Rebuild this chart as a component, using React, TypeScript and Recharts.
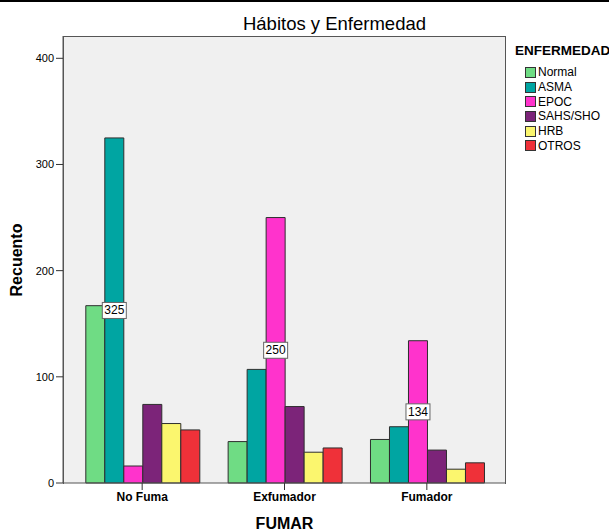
import { Bar, BarChart, CartesianGrid, LabelList, XAxis, YAxis } from 'recharts';

const habits = ['No Fuma', 'Exfumador', 'Fumador'];
const diseases = ['Normal', 'ASMA', 'EPOC', 'SAHS/SHO', 'HRB', 'OTROS'];
const colors = ['#6fdc84', '#00a5a2', '#ff33cc', '#7c2479', '#fbf66e', '#ef3139'];

const normal = [167, 39, 41];
const asma = [325, 107, 53];
const epoc = [16, 250, 134];
const sahs = [74, 72, 31];
const hrb = [56, 29, 13];
const otros = [50, 33, 19];

const yTicks = [0, 100, 200, 300, 400];

const seriesValues = [normal, asma, epoc, sahs, hrb, otros];

const data = habits.map((fumar, i) => {
  const row: Record<string, string | number> = { fumar };
  diseases.forEach((d, j) => {
    row[d] = seriesValues[j][i];
  });
  return row;
});

const rowMax = habits.map((_, i) => Math.max(...seriesValues.map((s) => s[i])));

const FONT = '"Liberation Sans", Arial, sans-serif';

// only the tallest bar of each group gets a value box
const PeakLabel = (props: any) => {
  const { x, y, width, height, value, index } = props;
  if (value !== rowMax[index]) return null;
  const cx = x + width / 2;
  const cy = y + height / 2;
  return (
    <g>
      <rect x={cx - 12} y={cy - 8} width={24} height={16} fill="#fff" stroke="#666" strokeWidth={1} />
      <text x={cx} y={cy + 4} textAnchor="middle" fontSize={12} fontFamily={FONT} fill="#000">
        {value}
      </text>
    </g>
  );
};

export default function App() {
  return (
    <div style={{ position: 'absolute', top: 0, left: 0, width: 609, height: 531, background: '#fff', fontFamily: FONT }}>
      <div style={{ position: 'absolute', top: 0, left: 0, width: 609, height: 2, background: '#000' }} />
      <BarChart
        width={609}
        height={531}
        data={data}
        margin={{ top: 36, right: 103, bottom: 18, left: 8 }}
        barCategoryGap="10.4%"
        barGap={0}
      >
        <CartesianGrid horizontal={false} vertical={false} fill="#f0f0f0" />
        <XAxis
          dataKey="fumar"
          padding={{ left: 8, right: 8 }}
          height={30}
          tickSize={7}
          axisLine={{ stroke: '#555' }}
          tickLine={{ stroke: '#333' }}
          tick={{ fontSize: 12, fontWeight: 'bold', fill: '#000', fontFamily: FONT }}
          interval={0}
        />
        <YAxis
          domain={[0, 421]}
          ticks={yTicks}
          width={55}
          tickSize={7}
          axisLine={{ stroke: '#555' }}
          tickLine={{ stroke: '#333' }}
          tick={{ fontSize: 11, fill: '#000', fontFamily: FONT }}
        />
        {diseases.map((d, j) => (
          <Bar key={d} dataKey={d} fill={colors[j]} stroke="#2e2e2e" strokeWidth={1} isAnimationActive={false}>
            <LabelList dataKey={d} content={PeakLabel} />
          </Bar>
        ))}
      </BarChart>

      {/* frame around the plot area */}
      <div
        style={{
          position: 'absolute',
          left: 63,
          top: 35.5,
          width: 443,
          height: 448,
          boxSizing: 'border-box',
          border: '1px solid #555',
          borderBottom: 'none',
          pointerEvents: 'none',
        }}
      />

      <div style={{ position: 'absolute', left: 0, width: 669, top: 13, textAlign: 'center', fontSize: 18.5, color: '#000', whiteSpace: 'nowrap' }}>
        Hábitos y Enfermedad
      </div>
      <div
        style={{
          position: 'absolute',
          left: 17,
          top: 260,
          transform: 'translate(-50%, -50%) rotate(-90deg)',
          fontSize: 16,
          fontWeight: 'bold',
          whiteSpace: 'nowrap',
        }}
      >
        Recuento
      </div>
      <div style={{ position: 'absolute', left: 0, width: 569, top: 515, textAlign: 'center', fontSize: 16, fontWeight: 'bold' }}>
        FUMAR
      </div>

      <div style={{ position: 'absolute', left: 515, top: 43, fontSize: 13.5, fontWeight: 'bold', whiteSpace: 'nowrap' }}>
        ENFERMEDAD
      </div>
      <div style={{ position: 'absolute', left: 525, top: 65 }}>
        {diseases.map((d, j) => (
          <div key={d} style={{ display: 'flex', alignItems: 'center', height: 14.7, fontSize: 12 }}>
            <span
              style={{
                width: 9,
                height: 9,
                background: colors[j],
                border: '1px solid #333',
                marginRight: 2,
                flex: 'none',
              }}
            />
            <span>{d}</span>
          </div>
        ))}
      </div>
    </div>
  );
}
